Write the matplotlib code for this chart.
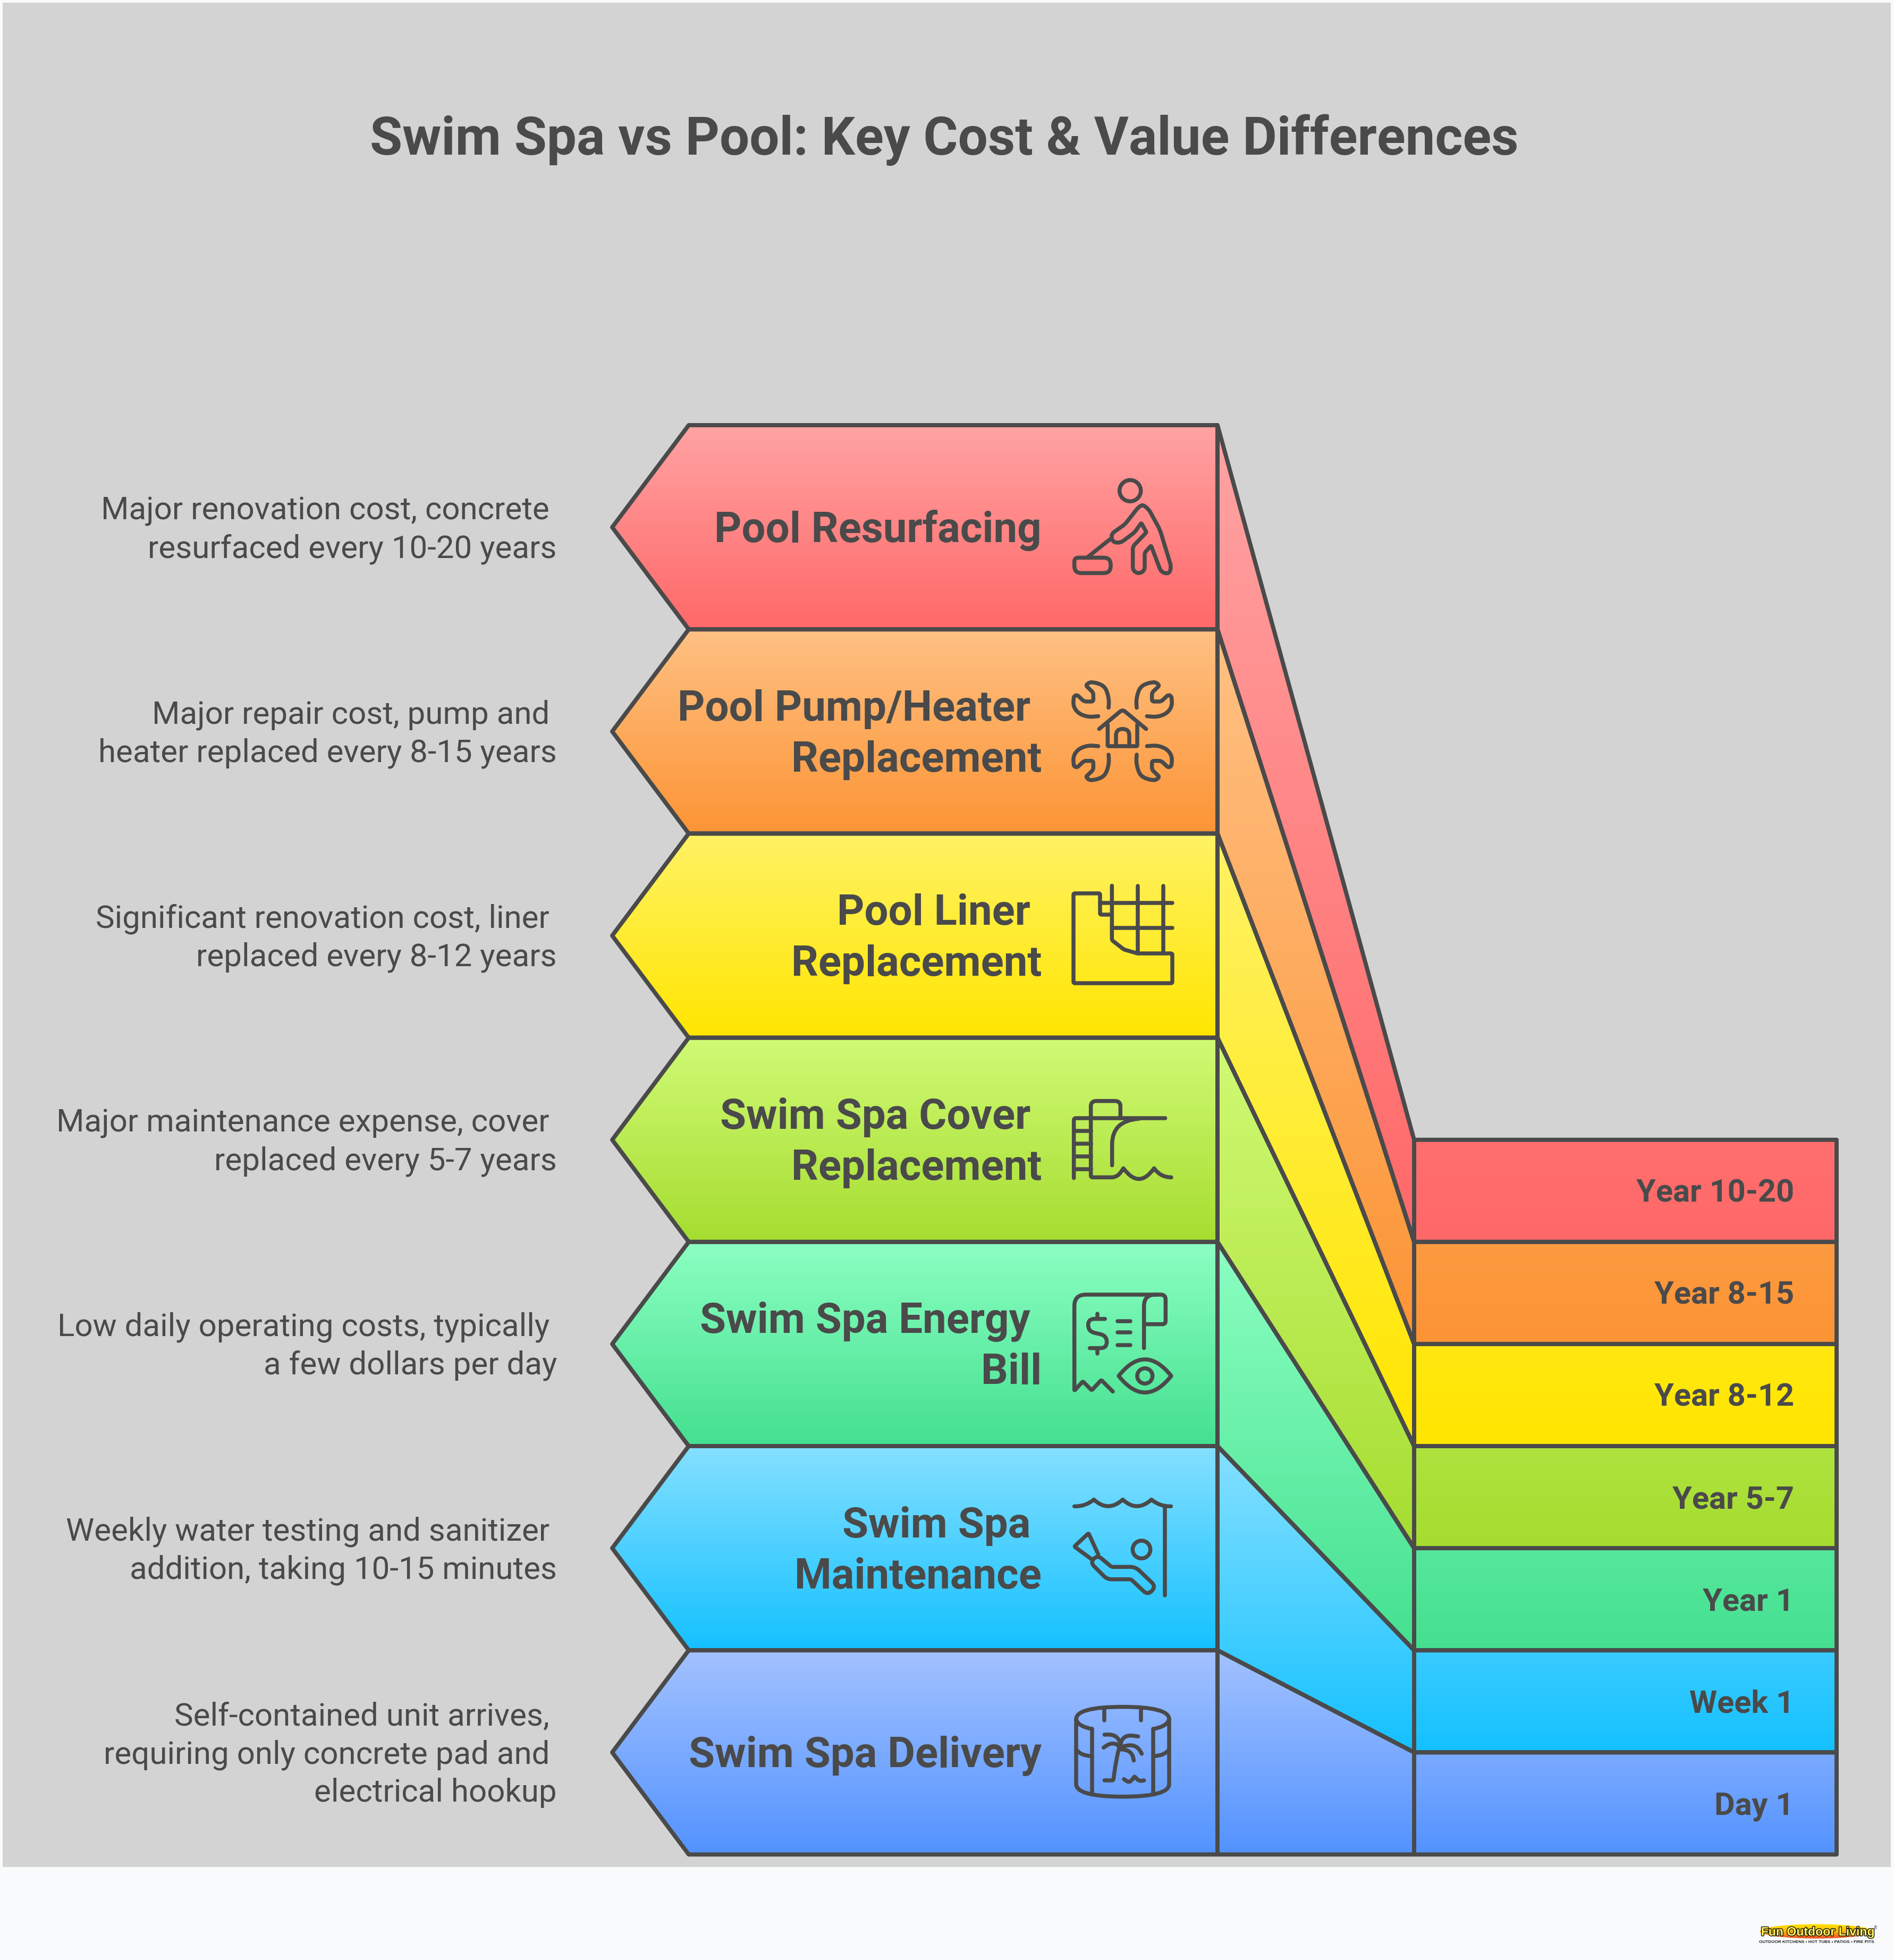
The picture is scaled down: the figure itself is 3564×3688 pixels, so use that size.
import numpy as np
import matplotlib
matplotlib.use('Agg')
import matplotlib.pyplot as plt
import matplotlib.patheffects as pe
from matplotlib.colors import LinearSegmentedColormap
from matplotlib.patches import Polygon, PathPatch, Ellipse, Rectangle
from matplotlib.path import Path

W, H = 3564, 3688
INK = '#4a4a4a'

title = 'Swim Spa vs Pool: Key Cost & Value Differences'

# top of the stack first
names = [['Pool Resurfacing'],
         ['Pool Pump/Heater', 'Replacement'],
         ['Pool Liner', 'Replacement'],
         ['Swim Spa Cover', 'Replacement'],
         ['Swim Spa Energy', 'Bill'],
         ['Swim Spa', 'Maintenance'],
         ['Swim Spa Delivery']]
notes = [['Major renovation cost, concrete', 'resurfaced every 10-20 years'],
         ['Major repair cost, pump and', 'heater replaced every 8-15 years'],
         ['Significant renovation cost, liner', 'replaced every 8-12 years'],
         ['Major maintenance expense, cover', 'replaced every 5-7 years'],
         ['Low daily operating costs, typically', 'a few dollars per day'],
         ['Weekly water testing and sanitizer', 'addition, taking 10-15 minutes'],
         ['Self-contained unit arrives,', 'requiring only concrete pad and', 'electrical hookup']]
times = ['Year 10-20', 'Year 8-15', 'Year 8-12', 'Year 5-7', 'Year 1', 'Week 1', 'Day 1']
top_colors = ['#ffa3a3', '#ffc184', '#fff265', '#d0fa75', '#8cffc2', '#85e0ff', '#a3c2ff']
bot_colors = ['#ff6868', '#fc9435', '#ffe600', '#a6dd30', '#44e090', '#14c1ff', '#5393ff']

# layout
x_tip, x_sh, x_mid, x_join, x_end = 1152, 1296, 2291, 2661, 3456
y_top, band_h = 800, 384.2
y_bot = y_top + band_h * 7
bar_h = 192.1
bar_top = y_bot - bar_h * 7
LW = 5.7

fig = plt.figure(figsize=(W / 100, H / 100), dpi=100, facecolor='#f8fafc')
ax = fig.add_axes([0, 0, 1, 1])
ax.add_patch(Rectangle((5, 5), 3553, 3508, fc='#d3d3d3', ec='none', zorder=0))


def grad_fill(verts, c1, c2, y1, y2):
    cm = LinearSegmentedColormap.from_list('g', [c1, c2])
    poly = Polygon(verts, closed=True, fc='none', ec='none', zorder=1)
    ax.add_patch(poly)
    xs = [v[0] for v in verts]
    g = np.linspace(0, 1, 256).reshape(-1, 1)
    im = ax.imshow(g, cmap=cm, aspect='auto', zorder=1, interpolation='bilinear',
                   extent=[min(xs), max(xs), y2, y1])
    im.set_clip_path(poly)


def outline(verts):
    ax.add_patch(Polygon(verts, closed=True, fc='none', ec=INK, lw=LW,
                         joinstyle='round', zorder=3))


for i in range(7):
    t, b = y_top + i * band_h, y_top + (i + 1) * band_h
    rt, rb = bar_top + i * bar_h, bar_top + (i + 1) * bar_h
    c = (t + b) / 2
    arrow = [(x_sh, t), (x_mid, t), (x_mid, b), (x_sh, b), (x_tip, c)]
    grad_fill(arrow, top_colors[i], bot_colors[i], t, b)
    wedge = [(x_mid, t), (x_join, rt), (x_end, rt), (x_end, rb), (x_join, rb), (x_mid, b)]
    grad_fill(wedge, top_colors[i], bot_colors[i], t, rb)
    outline(arrow)
    outline(wedge)
    ax.plot([x_join, x_join], [rt, rb], color=INK, lw=LW, zorder=3)

    # text
    lines = names[i]
    base = c + 27.5 - (len(lines) - 1) * 48
    for k, s in enumerate(lines):
        right = 1939 if k < len(lines) - 1 else 1960
        ax.text(right, base + k * 96, s, ha='right', va='baseline', fontsize=57.4,
                family='Roboto', weight='bold', color=INK, zorder=4)
    base = c + 21 - (len(notes[i]) - 1) * 36
    for k, s in enumerate(notes[i]):
        right = 1034 if k < len(notes[i]) - 1 else 1048
        ax.text(right, base + k * 72, s, ha='right', va='baseline', fontsize=43.2,
                family='Roboto', color=INK, zorder=4)
    ax.text(3376, (rt + rb) / 2 + 21, times[i], ha='right', va='baseline', fontsize=42.8,
            family='Roboto', weight='bold', color=INK, zorder=4)

ax.text(1777, 291, title, ha='center', va='baseline', fontsize=71.75,
        family='Roboto', weight='bold', color=INK, zorder=4)


# icon helpers, points are in crop units (3 per pixel)
def rounded(pts, closed=False, r0=12):
    P = [np.array(p[:2], float) for p in pts]
    R = [p[2] if len(p) > 2 else r0 for p in pts]
    n = len(P)
    verts, codes = [], []
    for i in range(n):
        if not closed and i in (0, n - 1):
            verts.append(P[i])
            codes.append(Path.MOVETO if i == 0 else Path.LINETO)
            continue
        a, b, c = P[i - 1], P[i], P[(i + 1) % n]
        d1, d2 = np.linalg.norm(a - b), np.linalg.norm(c - b)
        # a sharp or open neighbour leaves the whole segment free for the curve
        free1 = R[i - 1] == 0 or (not closed and i == 1)
        free2 = R[(i + 1) % n] == 0 or (not closed and i == n - 2)
        lim1, lim2 = d1 if free1 else d1 / 2, d2 if free2 else d2 / 2
        if R[i] >= 999:
            r1, r2 = lim1, lim2
        else:
            r1 = r2 = min(R[i], lim1, lim2)
        p1 = b + (a - b) * r1 / d1
        p2 = b + (c - b) * r2 / d2
        verts += [p1, b, p2]
        codes += [Path.MOVETO if (closed and i == 0) else Path.LINETO, Path.CURVE3, Path.CURVE3]
    if closed:
        verts.append(verts[0])
        codes.append(Path.CLOSEPOLY)
    return np.array(verts), codes


def stroke(y0, pts, closed=False, r0=12, flipx=None, flipy=None):
    v, codes = rounded(pts, closed, r0)
    if flipx:
        v[:, 0] = flipx - v[:, 0]
    if flipy:
        v[:, 1] = flipy - v[:, 1]
    v = v / 3 + [2000, y0]
    ax.add_patch(PathPatch(Path(v, codes), fc='none', ec=INK, lw=5.4,
                           capstyle='round', joinstyle='round', zorder=4))


def circle(y0, cx, cy, r):
    ax.add_patch(Ellipse((2000 + cx / 3, y0 + cy / 3), 2 * r / 3, 2 * r / 3,
                         fc='none', ec=INK, lw=5.4, zorder=4))


# Pool resurfacing
y0 = 880
circle(y0, 380, 130, 60)
stroke(y0, [(110, 508), (65, 508, 40), (65, 595, 40), (270, 595, 40), (270, 508, 40)], closed=True, r0=40)
stroke(y0, [(140, 505), (265, 405)])
stroke(y0, [(272, 375, 25), (350, 320, 15), (425, 225, 30), (450, 208, 30), (485, 235, 20),
            (548, 350, 25), (612, 560, 20), (600, 600, 30), (555, 590, 30), (498, 440, 6),
            (462, 480, 10), (462, 580, 30), (428, 600, 25), (395, 580, 30), (395, 445, 15),
            (472, 365, 6), (443, 312, 6), (405, 365, 15), (325, 425, 30), (280, 420, 25)], closed=True)

# Pump / heater
y0 = 1260
wrench = [(258, 215), (262, 165, 99), (240, 100, 99), (200, 76, 99), (150, 70, 14), (130, 90, 10),
          (172, 130, 12), (172, 180, 12), (120, 180, 12), (80, 142, 12), (62, 150, 12), (58, 205, 99),
          (85, 245, 99), (140, 268, 99), (200, 263)]
stroke(y0, wrench)
stroke(y0, wrench, flipx=675)
stroke(y0, wrench, flipy=695)
stroke(y0, wrench, flipx=675, flipy=695)
stroke(y0, [(205, 335), (337, 225, 18), (470, 335)])
stroke(y0, [(253, 310), (253, 432, 5), (420, 432, 5), (420, 310)])
stroke(y0, [(300, 432), (300, 335, 40), (375, 335, 40), (375, 432)])

# Pool liner
y0 = 1640
stroke(y0, [(277, 80), (277, 387, 8), (345, 440, 8), (422, 462, 8), (618, 462, 8), (618, 630, 8), (60, 630, 8),
            (60, 123, 8), (210, 123, 8), (210, 243, 8), (277, 243)])
stroke(y0, [(422, 80), (422, 462)])
stroke(y0, [(566, 80), (566, 462)])
stroke(y0, [(210, 176), (618, 176)])
stroke(y0, [(277, 319), (618, 319)])

# Swim spa cover
y0 = 2030
stroke(y0, [(62, 560), (62, 222, 12), (578, 222)])
stroke(y0, [(158, 222), (158, 556, 10), (280, 556, 0), (310, 552, 99), (342, 505, 0), (430, 625, 999),
            (515, 505, 0), (555, 556, 99), (612, 556)])
stroke(y0, [(158, 222), (158, 125, 30), (325, 125, 30), (325, 222)])
for yy in [293, 365, 437, 510]:
    stroke(y0, [(62, yy), (158, yy)])
stroke(y0, [(278, 488), (278, 370, 0), (278, 236, 999), (430, 225)])

# Energy bill
y0 = 2410
stroke(y0, [(282, 625), (217, 560, 6), (163, 618, 6), (113, 568, 6), (65, 620, 6), (65, 78, 65), (525, 78, 5),
            (580, 78, 60), (580, 245, 18), (458, 245)])
stroke(y0, [(458, 380), (458, 78, 65), (530, 78)])
stroke(y0, [(195, 185), (195, 210)])
stroke(y0, [(195, 385), (195, 410)])
stroke(y0, [(238, 215), (143, 215, 45), (143, 285, 40), (248, 310, 45), (248, 380, 40), (152, 380)])
for yy in [227, 292, 364]:
    stroke(y0, [(310, yy), (380, yy)])
stroke(y0, [(315, 537, 0), (463, 350, 999), (612, 537, 0), (463, 724, 999)], closed=True)
circle(y0, 463, 537, 43)

# Maintenance
y0 = 2800
stroke(y0, [(65, 103), (130, 103, 60), (175, 65, 0), (256, 140, 999), (338, 65, 0), (418, 140, 999),
            (500, 65, 0), (545, 103, 60), (610, 103)])
stroke(y0, [(576, 103), (576, 605)])
circle(y0, 444, 347, 50)
stroke(y0, [(195, 378, 30), (275, 445, 10), (410, 445, 30), (525, 555, 30), (480, 605, 35), (385, 515, 10),
            (250, 515, 25), (155, 420, 30)], closed=True)
stroke(y0, [(160, 400), (65, 330, 6), (145, 255, 6), (200, 375)])

# Delivery
y0 = 3180
stroke(y0, [(75, 165, 0), (75, 95, 999), (338, 95, 0), (600, 95, 999), (600, 165, 0)])
stroke(y0, [(75, 165), (85, 205, 999), (165, 220)])
stroke(y0, [(600, 165), (590, 205, 999), (510, 220)])
stroke(y0, [(75, 165), (75, 530)])
stroke(y0, [(600, 165), (600, 530)])
stroke(y0, [(75, 530, 0), (75, 602, 999), (338, 602, 0), (600, 602, 999), (600, 530, 0)])
stroke(y0, [(165, 220), (165, 578)])
stroke(y0, [(510, 220), (510, 578)])
stroke(y0, [(75, 335), (95, 362, 99), (165, 375)])
stroke(y0, [(510, 375), (580, 362, 99), (600, 335)])
stroke(y0, [(235, 100), (235, 170)])
stroke(y0, [(440, 100), (440, 170)])
stroke(y0, [(235, 510), (285, 510, 8), (300, 400, 99), (325, 295)])
stroke(y0, [(235, 252), (315, 250, 99), (325, 310)])
stroke(y0, [(425, 262), (335, 250, 99), (325, 310)])
stroke(y0, [(230, 325), (290, 285, 99), (325, 325)])
stroke(y0, [(325, 322), (420, 300, 99), (445, 360)])
stroke(y0, [(325, 335), (395, 340, 99), (400, 398)])
stroke(y0, [(345, 503), (375, 525, 20), (405, 488, 4), (430, 515, 20), (458, 510)])

# logo
logo = Ellipse((3418, 3634), 213, 27, fc='none', ec='none', zorder=4)
ax.add_patch(logo)
cm = LinearSegmentedColormap.from_list('l', ['#ffe600', '#fbb514', '#ee4a22'])
im = ax.imshow(np.linspace(0, 1, 64).reshape(-1, 1), cmap=cm, aspect='auto', zorder=4,
               extent=[3310, 3526, 3648, 3620])
im.set_clip_path(logo)
ax.text(3420, 3642, 'Fun Outdoor Living', ha='center', va='baseline', fontsize=16.6,
        family='Liberation Sans', weight='bold', color='#fff45c', zorder=5,
        path_effects=[pe.withStroke(linewidth=2.0, foreground='#111111')])
ax.text(3529, 3630, '®', ha='center', va='baseline', fontsize=6, family='DejaVu Sans',
        color='#555555', zorder=5)
ax.text(3418, 3656, 'OUTDOOR KITCHENS • HOT TUBS • PATIOS • FIRE PITS', ha='center', va='baseline',
        fontsize=5.9, family='Liberation Sans', weight='bold', color='#222222', zorder=5)

ax.set_xlim(0, W)
ax.set_ylim(H, 0)
ax.axis('off')
fig.savefig('out.png', dpi=100, facecolor=fig.get_facecolor())
